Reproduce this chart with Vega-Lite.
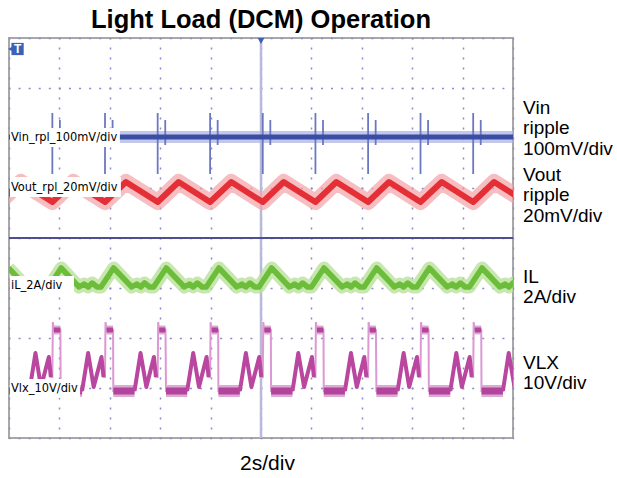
{
  "$schema": "https://vega.github.io/schema/vega-lite/v6.json",
  "width": 504,
  "height": 400,
  "autosize": {"type": "none"},
  "padding": {"left": 9, "top": 38, "right": 104, "bottom": 40},
  "background": "white",
  "title": {"text": "Light Load (DCM) Operation", "font": "Liberation Sans", "fontSize": 25.5, "fontWeight": "bold", "color": "black", "anchor": "middle", "frame": "group", "offset": 6, "baseline": "bottom", "dy": 28},
  "config": {"view": {"stroke": "#a8a8a8", "strokeWidth": 2}},
  "datasets": {
    "vin": [{"t": 0, "v": 6.02}, {"t": 20, "v": 6.02}],
    "vinspk": [
      {"t": 1.72, "v": 5.28, "v2": 6.5}, {"t": 3.81, "v": 5.28, "v2": 6.5}, {"t": 5.9, "v": 5.28, "v2": 6.5},
      {"t": 7.98, "v": 5.28, "v2": 6.5}, {"t": 10.07, "v": 5.28, "v2": 6.5}, {"t": 12.16, "v": 5.28, "v2": 6.5},
      {"t": 14.25, "v": 5.28, "v2": 6.5}, {"t": 16.33, "v": 5.28, "v2": 6.5}, {"t": 18.42, "v": 5.28, "v2": 6.5},
      {"t": 2.02, "v": 5.86, "v2": 6.36}, {"t": 4.11, "v": 5.86, "v2": 6.36}, {"t": 6.2, "v": 5.86, "v2": 6.36},
      {"t": 8.28, "v": 5.86, "v2": 6.36}, {"t": 10.37, "v": 5.86, "v2": 6.36}, {"t": 12.46, "v": 5.86, "v2": 6.36},
      {"t": 14.55, "v": 5.86, "v2": 6.36}, {"t": 16.63, "v": 5.86, "v2": 6.36}, {"t": 18.72, "v": 5.86, "v2": 6.36}
    ],
    "vout": [
      {"t": -0.37, "v": 4.72}, {"t": 0.47, "v": 5.12}, {"t": 1.72, "v": 4.72}, {"t": 2.55, "v": 5.12},
      {"t": 3.81, "v": 4.72}, {"t": 4.64, "v": 5.12}, {"t": 5.9, "v": 4.72}, {"t": 6.73, "v": 5.12},
      {"t": 7.98, "v": 4.72}, {"t": 8.82, "v": 5.12}, {"t": 10.07, "v": 4.72}, {"t": 10.9, "v": 5.12},
      {"t": 12.16, "v": 4.72}, {"t": 12.99, "v": 5.12}, {"t": 14.25, "v": 4.72}, {"t": 15.08, "v": 5.12},
      {"t": 16.33, "v": 4.72}, {"t": 17.17, "v": 5.12}, {"t": 18.42, "v": 4.72}, {"t": 19.25, "v": 5.12},
      {"t": 20.51, "v": 4.72}
    ],
    "il": [
      {"t": -0.02, "v": 3.4}, {"t": 0.69, "v": 3.02}, {"t": 0.89, "v": 3.08}, {"t": 1.05, "v": 3.02}, {"t": 1.21, "v": 3.1}, {"t": 1.41, "v": 3.02}, {"t": 1.57, "v": 3.02},
      {"t": 2.07, "v": 3.4}, {"t": 2.78, "v": 3.02}, {"t": 2.98, "v": 3.08}, {"t": 3.14, "v": 3.02}, {"t": 3.3, "v": 3.1}, {"t": 3.5, "v": 3.02}, {"t": 3.65, "v": 3.02},
      {"t": 4.15, "v": 3.4}, {"t": 4.87, "v": 3.02}, {"t": 5.07, "v": 3.08}, {"t": 5.23, "v": 3.02}, {"t": 5.38, "v": 3.1}, {"t": 5.58, "v": 3.02}, {"t": 5.74, "v": 3.02},
      {"t": 6.24, "v": 3.4}, {"t": 6.96, "v": 3.02}, {"t": 7.16, "v": 3.08}, {"t": 7.31, "v": 3.02}, {"t": 7.47, "v": 3.1}, {"t": 7.67, "v": 3.02}, {"t": 7.83, "v": 3.02},
      {"t": 8.33, "v": 3.4}, {"t": 9.04, "v": 3.02}, {"t": 9.24, "v": 3.08}, {"t": 9.4, "v": 3.02}, {"t": 9.56, "v": 3.1}, {"t": 9.76, "v": 3.02}, {"t": 9.92, "v": 3.02},
      {"t": 10.42, "v": 3.4}, {"t": 11.13, "v": 3.02}, {"t": 11.33, "v": 3.08}, {"t": 11.49, "v": 3.02}, {"t": 11.65, "v": 3.1}, {"t": 11.85, "v": 3.02}, {"t": 12.0, "v": 3.02},
      {"t": 12.5, "v": 3.4}, {"t": 13.22, "v": 3.02}, {"t": 13.42, "v": 3.08}, {"t": 13.57, "v": 3.02}, {"t": 13.73, "v": 3.1}, {"t": 13.93, "v": 3.02}, {"t": 14.09, "v": 3.02},
      {"t": 14.59, "v": 3.4}, {"t": 15.3, "v": 3.02}, {"t": 15.5, "v": 3.08}, {"t": 15.66, "v": 3.02}, {"t": 15.82, "v": 3.1}, {"t": 16.02, "v": 3.02}, {"t": 16.18, "v": 3.02},
      {"t": 16.68, "v": 3.4}, {"t": 17.39, "v": 3.02}, {"t": 17.59, "v": 3.08}, {"t": 17.75, "v": 3.02}, {"t": 17.91, "v": 3.1}, {"t": 18.11, "v": 3.02}, {"t": 18.27, "v": 3.02},
      {"t": 18.77, "v": 3.4}, {"t": 19.48, "v": 3.02}, {"t": 19.68, "v": 3.08}, {"t": 19.84, "v": 3.02}, {"t": 20.0, "v": 3.1}, {"t": 20.19, "v": 3.02}
    ],
    "vlx": [
      {"t": -0.37, "v": 1.22, "k": -1, "r": 0}, {"t": -0.35, "v": 2.32, "k": -1, "r": 0}, {"t": -0.31, "v": 2.16, "k": -1, "r": 0}, {"t": -0.05, "v": 2.16, "k": -1, "r": 0}, {"t": -0.04, "v": 0.94, "k": -1, "r": 0},
      {"t": 0.81, "v": 0.94, "k": -1, "r": 1}, {"t": 1.05, "v": 1.7, "k": -1, "r": 1}, {"t": 1.27, "v": 1.02, "k": -1, "r": 1}, {"t": 1.58, "v": 1.62, "k": -1, "r": 1}, {"t": 1.66, "v": 1.22, "k": -1, "r": 1},
      {"t": 1.72, "v": 1.22, "k": 0, "r": 0}, {"t": 1.74, "v": 2.32, "k": 0, "r": 0}, {"t": 1.78, "v": 2.16, "k": 0, "r": 0}, {"t": 2.04, "v": 2.16, "k": 0, "r": 0}, {"t": 2.05, "v": 0.94, "k": 0, "r": 0},
      {"t": 2.9, "v": 0.94, "k": 0, "r": 1}, {"t": 3.14, "v": 1.7, "k": 0, "r": 1}, {"t": 3.36, "v": 1.02, "k": 0, "r": 1}, {"t": 3.67, "v": 1.62, "k": 0, "r": 1}, {"t": 3.75, "v": 1.22, "k": 0, "r": 1},
      {"t": 3.81, "v": 1.22, "k": 1, "r": 0}, {"t": 3.83, "v": 2.32, "k": 1, "r": 0}, {"t": 3.87, "v": 2.16, "k": 1, "r": 0}, {"t": 4.13, "v": 2.16, "k": 1, "r": 0}, {"t": 4.14, "v": 0.94, "k": 1, "r": 0},
      {"t": 4.98, "v": 0.94, "k": 1, "r": 1}, {"t": 5.22, "v": 1.7, "k": 1, "r": 1}, {"t": 5.45, "v": 1.02, "k": 1, "r": 1}, {"t": 5.75, "v": 1.62, "k": 1, "r": 1}, {"t": 5.83, "v": 1.22, "k": 1, "r": 1},
      {"t": 5.9, "v": 1.22, "k": 2, "r": 0}, {"t": 5.92, "v": 2.32, "k": 2, "r": 0}, {"t": 5.96, "v": 2.16, "k": 2, "r": 0}, {"t": 6.21, "v": 2.16, "k": 2, "r": 0}, {"t": 6.23, "v": 0.94, "k": 2, "r": 0},
      {"t": 7.07, "v": 0.94, "k": 2, "r": 1}, {"t": 7.31, "v": 1.7, "k": 2, "r": 1}, {"t": 7.54, "v": 1.02, "k": 2, "r": 1}, {"t": 7.84, "v": 1.62, "k": 2, "r": 1}, {"t": 7.92, "v": 1.22, "k": 2, "r": 1},
      {"t": 7.98, "v": 1.22, "k": 3, "r": 0}, {"t": 8.0, "v": 2.32, "k": 3, "r": 0}, {"t": 8.04, "v": 2.16, "k": 3, "r": 0}, {"t": 8.3, "v": 2.16, "k": 3, "r": 0}, {"t": 8.31, "v": 0.94, "k": 3, "r": 0},
      {"t": 9.16, "v": 0.94, "k": 3, "r": 1}, {"t": 9.4, "v": 1.7, "k": 3, "r": 1}, {"t": 9.62, "v": 1.02, "k": 3, "r": 1}, {"t": 9.93, "v": 1.62, "k": 3, "r": 1}, {"t": 10.01, "v": 1.22, "k": 3, "r": 1},
      {"t": 10.07, "v": 1.22, "k": 4, "r": 0}, {"t": 10.09, "v": 2.32, "k": 4, "r": 0}, {"t": 10.13, "v": 2.16, "k": 4, "r": 0}, {"t": 10.39, "v": 2.16, "k": 4, "r": 0}, {"t": 10.4, "v": 0.94, "k": 4, "r": 0},
      {"t": 11.25, "v": 0.94, "k": 4, "r": 1}, {"t": 11.48, "v": 1.7, "k": 4, "r": 1}, {"t": 11.71, "v": 1.02, "k": 4, "r": 1}, {"t": 12.02, "v": 1.62, "k": 4, "r": 1}, {"t": 12.1, "v": 1.22, "k": 4, "r": 1},
      {"t": 12.16, "v": 1.22, "k": 5, "r": 0}, {"t": 12.18, "v": 2.32, "k": 5, "r": 0}, {"t": 12.22, "v": 2.16, "k": 5, "r": 0}, {"t": 12.48, "v": 2.16, "k": 5, "r": 0}, {"t": 12.49, "v": 0.94, "k": 5, "r": 0},
      {"t": 13.33, "v": 0.94, "k": 5, "r": 1}, {"t": 13.57, "v": 1.7, "k": 5, "r": 1}, {"t": 13.8, "v": 1.02, "k": 5, "r": 1}, {"t": 14.1, "v": 1.62, "k": 5, "r": 1}, {"t": 14.18, "v": 1.22, "k": 5, "r": 1},
      {"t": 14.25, "v": 1.22, "k": 6, "r": 0}, {"t": 14.27, "v": 2.32, "k": 6, "r": 0}, {"t": 14.31, "v": 2.16, "k": 6, "r": 0}, {"t": 14.56, "v": 2.16, "k": 6, "r": 0}, {"t": 14.58, "v": 0.94, "k": 6, "r": 0},
      {"t": 15.42, "v": 0.94, "k": 6, "r": 1}, {"t": 15.66, "v": 1.7, "k": 6, "r": 1}, {"t": 15.88, "v": 1.02, "k": 6, "r": 1}, {"t": 16.19, "v": 1.62, "k": 6, "r": 1}, {"t": 16.27, "v": 1.22, "k": 6, "r": 1},
      {"t": 16.33, "v": 1.22, "k": 7, "r": 0}, {"t": 16.35, "v": 2.32, "k": 7, "r": 0}, {"t": 16.39, "v": 2.16, "k": 7, "r": 0}, {"t": 16.65, "v": 2.16, "k": 7, "r": 0}, {"t": 16.66, "v": 0.94, "k": 7, "r": 0},
      {"t": 17.51, "v": 0.94, "k": 7, "r": 1}, {"t": 17.75, "v": 1.7, "k": 7, "r": 1}, {"t": 17.97, "v": 1.02, "k": 7, "r": 1}, {"t": 18.28, "v": 1.62, "k": 7, "r": 1}, {"t": 18.36, "v": 1.22, "k": 7, "r": 1},
      {"t": 18.42, "v": 1.22, "k": 8, "r": 0}, {"t": 18.44, "v": 2.32, "k": 8, "r": 0}, {"t": 18.48, "v": 2.16, "k": 8, "r": 0}, {"t": 18.74, "v": 2.16, "k": 8, "r": 0}, {"t": 18.75, "v": 0.94, "k": 8, "r": 0},
      {"t": 19.6, "v": 0.94, "k": 8, "r": 1}, {"t": 19.83, "v": 1.7, "k": 8, "r": 1}, {"t": 20.06, "v": 1.02, "k": 8, "r": 1}
    ],
    "flatlo": [
      {"t": -0.04, "t2": 0.81, "v": 0.94}, {"t": 2.05, "t2": 2.9, "v": 0.94}, {"t": 4.14, "t2": 4.98, "v": 0.94},
      {"t": 6.23, "t2": 7.07, "v": 0.94}, {"t": 8.31, "t2": 9.16, "v": 0.94}, {"t": 10.4, "t2": 11.25, "v": 0.94},
      {"t": 12.49, "t2": 13.33, "v": 0.94}, {"t": 14.58, "t2": 15.42, "v": 0.94}, {"t": 16.66, "t2": 17.51, "v": 0.94},
      {"t": 18.75, "t2": 19.6, "v": 0.94}
    ],
    "flathi": [
      {"t": 1.78, "t2": 2.04, "v": 2.16}, {"t": 3.87, "t2": 4.13, "v": 2.16}, {"t": 5.96, "t2": 6.21, "v": 2.16},
      {"t": 8.04, "t2": 8.3, "v": 2.16}, {"t": 10.13, "t2": 10.39, "v": 2.16}, {"t": 12.22, "t2": 12.48, "v": 2.16},
      {"t": 14.31, "t2": 14.56, "v": 2.16}, {"t": 16.39, "t2": 16.65, "v": 2.16}, {"t": 18.48, "t2": 18.74, "v": 2.16}
    ],
    "centre": [{"t": 10, "v": 0, "t2": 10, "v2": 8}],
    "centreh": [{"t": 0, "v": 4, "t2": 20, "v2": 4}],
    "ht": [
      {"t": 0}, {"t": 0.4}, {"t": 0.8}, {"t": 1.2}, {"t": 1.6}, {"t": 2}, {"t": 2.4}, {"t": 2.8}, {"t": 3.2}, {"t": 3.6},
      {"t": 4}, {"t": 4.4}, {"t": 4.8}, {"t": 5.2}, {"t": 5.6}, {"t": 6}, {"t": 6.4}, {"t": 6.8}, {"t": 7.2}, {"t": 7.6},
      {"t": 8}, {"t": 8.4}, {"t": 8.8}, {"t": 9.2}, {"t": 9.6}, {"t": 10}, {"t": 10.4}, {"t": 10.8}, {"t": 11.2}, {"t": 11.6},
      {"t": 12}, {"t": 12.4}, {"t": 12.8}, {"t": 13.2}, {"t": 13.6}, {"t": 14}, {"t": 14.4}, {"t": 14.8}, {"t": 15.2}, {"t": 15.6},
      {"t": 16}, {"t": 16.4}, {"t": 16.8}, {"t": 17.2}, {"t": 17.6}, {"t": 18}, {"t": 18.4}, {"t": 18.8}, {"t": 19.2}, {"t": 19.6}, {"t": 20}
    ],
    "vt": [
      {"v": 0}, {"v": 0.2}, {"v": 0.4}, {"v": 0.6}, {"v": 0.8}, {"v": 1}, {"v": 1.2}, {"v": 1.4}, {"v": 1.6}, {"v": 1.8},
      {"v": 2}, {"v": 2.2}, {"v": 2.4}, {"v": 2.6}, {"v": 2.8}, {"v": 3}, {"v": 3.2}, {"v": 3.4}, {"v": 3.6}, {"v": 3.8},
      {"v": 4}, {"v": 4.2}, {"v": 4.4}, {"v": 4.6}, {"v": 4.8}, {"v": 5}, {"v": 5.2}, {"v": 5.4}, {"v": 5.6}, {"v": 5.8},
      {"v": 6}, {"v": 6.2}, {"v": 6.4}, {"v": 6.6}, {"v": 6.8}, {"v": 7}, {"v": 7.2}, {"v": 7.4}, {"v": 7.6}, {"v": 7.8}, {"v": 8}
    ],
    "boxes": [
      {"t": 0.04, "t2": 4.4, "v": 5.82, "v2": 6.2}, {"t": 0.04, "t2": 4.44, "v": 4.82, "v2": 5.22},
      {"t": 0.04, "t2": 2.58, "v": 2.86, "v2": 3.24}, {"t": 0.04, "t2": 2.82, "v": 0.8, "v2": 1.18}
    ],
    "lbl": [
      {"t": 0.08, "v": 6.02, "txt": "Vin_rpl_100mV/div"}, {"t": 0.08, "v": 5.02, "txt": "Vout_rpl_20mV/div"},
      {"t": 0.08, "v": 3.06, "txt": "iL_2A/div"}, {"t": 0.08, "v": 1.0, "txt": "Vlx_10V/div"}
    ],
    "rlbl": [
      {"t": 20.4, "v": 6.61, "txt": "Vin"}, {"t": 20.4, "v": 6.2, "txt": "ripple"}, {"t": 20.4, "v": 5.79, "txt": "100mV/div"},
      {"t": 20.4, "v": 5.27, "txt": "Vout"}, {"t": 20.4, "v": 4.86, "txt": "ripple"}, {"t": 20.4, "v": 4.45, "txt": "20mV/div"},
      {"t": 20.4, "v": 3.23, "txt": "IL"}, {"t": 20.4, "v": 2.82, "txt": "2A/div"},
      {"t": 20.4, "v": 1.51, "txt": "VLX"}, {"t": 20.4, "v": 1.1, "txt": "10V/div"}
    ],
    "trig": [{"t": 10, "v": 7.94}],
    "tmark": [{"t": 0.34, "v": 7.78, "txt": "T"}],
    "tarrow": [{"t": 0.1, "v": 7.78}]
  },
  "encoding": {
    "x": {"field": "t", "type": "quantitative", "scale": {"domain": [0, 20], "nice": false, "zero": false},
      "axis": {"values": [0, 2, 4, 6, 8, 10, 12, 14, 16, 18, 20], "grid": true, "gridDash": [2, 8], "gridDashOffset": 1, "gridColor": "#8a8ac6", "gridWidth": 1.5, "domain": false, "ticks": false, "labels": false,
        "title": "2s/div", "titleFont": "Liberation Sans", "titleFontSize": 21, "titleFontWeight": "normal", "titleColor": "black", "titleX": 258, "titleY": 25, "titleBaseline": "middle"}},
    "y": {"field": "v", "type": "quantitative", "scale": {"domain": [0, 8], "nice": false, "zero": false},
      "axis": {"values": [0, 1, 2, 3, 4, 5, 6, 7, 8], "grid": true, "gridDash": [2, 8.08], "gridDashOffset": 1, "gridColor": "#8a8ac6", "gridWidth": 1.5, "domain": false, "ticks": false, "labels": false, "title": null}}
  },
  "layer": [
    {"data": {"name": "centre"}, "mark": {"type": "rule", "color": "#b9b9d9", "strokeWidth": 2.5}, "encoding": {"x2": {"field": "t2"}, "y2": {"field": "v2"}}},
    {"data": {"name": "centreh"}, "mark": {"type": "rule", "color": "#4e4e92", "strokeWidth": 2}, "encoding": {"x2": {"field": "t2"}, "y2": {"field": "v2"}}},
    {"data": {"name": "ht"}, "mark": {"type": "tick", "orient": "vertical", "size": 7, "thickness": 1.5, "color": "#7c7cb8"}, "encoding": {"y": {"datum": 4}}},
    {"data": {"name": "ht"}, "mark": {"type": "tick", "orient": "vertical", "size": 6, "thickness": 1.5, "color": "#8a8ac6", "clip": true}, "encoding": {"y": {"datum": 8}}},
    {"data": {"name": "ht"}, "mark": {"type": "tick", "orient": "vertical", "size": 6, "thickness": 1.5, "color": "#8a8ac6", "clip": true}, "encoding": {"y": {"datum": 0}}},
    {"data": {"name": "vt"}, "mark": {"type": "tick", "orient": "horizontal", "size": 7, "thickness": 1.5, "color": "#7c7cb8"}, "encoding": {"x": {"datum": 10}}},
    {"data": {"name": "vt"}, "mark": {"type": "tick", "orient": "horizontal", "size": 6, "thickness": 1.5, "color": "#8a8ac6", "clip": true}, "encoding": {"x": {"datum": 0}}},
    {"data": {"name": "vt"}, "mark": {"type": "tick", "orient": "horizontal", "size": 6, "thickness": 1.5, "color": "#8a8ac6", "clip": true}, "encoding": {"x": {"datum": 20}}},

    {"data": {"name": "vin"}, "mark": {"type": "line", "color": "#a7b0df", "strokeWidth": 12, "opacity": 0.7, "clip": true}, "encoding": {}},
    {"data": {"name": "vinspk"}, "mark": {"type": "rule", "color": "#6a78c2", "strokeWidth": 1.8, "clip": true}, "encoding": {"y2": {"field": "v2"}}},
    {"data": {"name": "vin"}, "mark": {"type": "line", "color": "#3b4ca4", "strokeWidth": 5, "clip": true}, "encoding": {}},

    {"data": {"name": "vout"}, "mark": {"type": "line", "color": "#f4a3a6", "strokeWidth": 16, "opacity": 0.7, "clip": true, "strokeJoin": "round"}, "encoding": {}},
    {"data": {"name": "vout"}, "mark": {"type": "line", "color": "#e52f36", "strokeWidth": 6, "clip": true, "strokeJoin": "round"}, "encoding": {}},

    {"data": {"name": "il"}, "mark": {"type": "line", "color": "#b9e19a", "strokeWidth": 13, "opacity": 0.8, "clip": true, "strokeJoin": "round"}, "encoding": {}},
    {"data": {"name": "il"}, "mark": {"type": "line", "color": "#6bbd3a", "strokeWidth": 5.5, "clip": true, "strokeJoin": "round"}, "encoding": {}},

    {"data": {"name": "vlx"}, "mark": {"type": "line", "color": "#dc98d2", "strokeWidth": 2, "clip": true}, "encoding": {}},
    {"data": {"name": "flatlo"}, "mark": {"type": "rule", "color": "#dcaad4", "strokeWidth": 12, "clip": true}, "encoding": {"x2": {"field": "t2"}}},
    {"data": {"name": "flatlo"}, "mark": {"type": "rule", "color": "#b3449c", "strokeWidth": 7, "clip": true}, "encoding": {"x2": {"field": "t2"}}},
    {"data": {"name": "flathi"}, "mark": {"type": "rule", "color": "#dcaad4", "strokeWidth": 9, "clip": true}, "encoding": {"x2": {"field": "t2"}}},
    {"data": {"name": "flathi"}, "mark": {"type": "rule", "color": "#b3449c", "strokeWidth": 5, "clip": true}, "encoding": {"x2": {"field": "t2"}}},
    {"data": {"name": "vlx"}, "transform": [{"filter": "datum.r == 1"}], "mark": {"type": "line", "color": "#b9469f", "strokeWidth": 4, "clip": true, "strokeJoin": "round"}, "encoding": {"detail": {"field": "k", "type": "nominal"}}},

    {"data": {"name": "boxes"}, "mark": {"type": "rect", "color": "white"}, "encoding": {"x2": {"field": "t2"}, "y2": {"field": "v2"}}},
    {"data": {"name": "lbl"}, "mark": {"type": "text", "align": "left", "baseline": "middle", "font": "DejaVu Sans Condensed, sans-serif", "fontSize": 12.7, "color": "black"}, "encoding": {"text": {"field": "txt"}}},
    {"data": {"name": "rlbl"}, "mark": {"type": "text", "align": "left", "baseline": "middle", "font": "Liberation Sans", "fontSize": 19, "color": "black"}, "encoding": {"text": {"field": "txt"}}},
    {"data": {"name": "trig"}, "mark": {"type": "point", "shape": "triangle-down", "size": 45, "filled": true, "color": "#3d62b5", "opacity": 1}, "encoding": {}},
    {"data": {"name": "tarrow"}, "mark": {"type": "point", "shape": "triangle-left", "size": 60, "filled": true, "color": "#3d62b5", "opacity": 1}, "encoding": {}},
    {"data": {"name": "tmark"}, "mark": {"type": "point", "shape": "square", "size": 150, "filled": true, "color": "#3d62b5", "opacity": 1}, "encoding": {}},
    {"data": {"name": "tmark"}, "mark": {"type": "text", "font": "Liberation Sans", "fontWeight": "bold", "fontSize": 12, "color": "white", "baseline": "middle"}, "encoding": {"text": {"field": "txt"}}}
  ]
}
